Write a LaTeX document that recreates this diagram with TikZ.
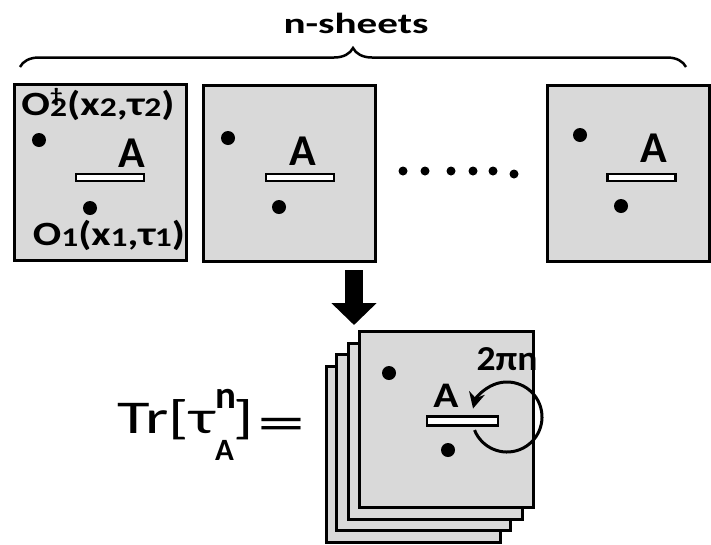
\documentclass[tikz,border=0pt]{standalone}
\usepackage{fontspec}
\setmainfont{Carlito}
\usetikzlibrary{positioning}
\usetikzlibrary{arrows.meta}
\usetikzlibrary{decorations.pathreplacing}

\definecolor{sheetgray}{RGB}{217,217,217}
\newcommand{\sub}[1]{\raisebox{-1pt}{\fontsize{27}{27}\selectfont #1}}

\begin{document}
\begin{tikzpicture}[x=1pt, y=-1pt, font=\bfseries,
	sheet/.style={draw, line width=3pt, fill=sheetgray, inner sep=0pt, minimum width=172pt, minimum height=176pt},
	slit/.style={draw, line width=2.5pt, fill=white, inner sep=0pt, minimum width=68pt, minimum height=7pt},
	pt/.style={circle, fill=black, inner sep=0pt, minimum size=14pt},
	alabel/.style={anchor=base, inner sep=0pt, font=\bfseries\fontsize{44}{44}\selectfont}]
		\useasboundingbox (0, 0) rectangle (711, 544);

		% brace over the sheets
		\draw [line width=2.5pt, decorate, decoration={brace, amplitude=19pt}] (20, 67) -- (686, 67);
		\node (nsheets) [anchor=base, inner sep=0pt, font=\bfseries\fontsize{29}{29}\selectfont] at (356, 33)
			{\resizebox{145pt}{\height}{n-sheets}};

		% first sheet
		\node (sheet1) [sheet] at (100, 172) {};
		\node (o2) [pt] at (39, 140) {};
		\node (o1) [pt] at (90, 208) {};
		\node (slit1) [slit] at (110, 177.5) {};
		\node (a1) [alabel] at (132, 167) {A};
		\node (o2lbl) [anchor=base, inner sep=0pt, font=\bfseries\fontsize{34}{34}\selectfont] at (98, 115)
			{\resizebox{153pt}{\height}{O\makebox[0pt][l]{\raisebox{13pt}{\fontsize{20}{20}\selectfont †}}\sub{2}(x\sub{2},τ\sub{2})}};
		\node (o1lbl) [anchor=base, inner sep=0pt, font=\bfseries\fontsize{34}{34}\selectfont] at (109, 245)
			{\resizebox{152pt}{\height}{O\sub{1}(x\sub{1},τ\sub{1})}};

		% second sheet
		\node (sheet2) [sheet] at (289, 173.5) {};
		\node (p21) [pt] at (228, 138) {};
		\node (p22) [pt] at (279, 207) {};
		\node (slit2) [slit] at (300, 177.5) {};
		\node (a2) [alabel] at (303, 165) {A};

		% dots in between
		\foreach \x/\y in {403/171, 425/171, 451/171, 473/171, 493/171, 514/174}
			\fill (\x, \y) circle (4.5);

		% last sheet
		\node (sheetn) [sheet, minimum width=162pt] at (628, 173.5) {};
		\node (pn1) [pt] at (580, 135) {};
		\node (pn2) [pt] at (621, 206) {};
		\node (slitn) [slit] at (641.5, 177.5) {};
		\node (an) [alabel] at (654, 162) {A};

		% stacked sheets
		\foreach \i/\x/\y in {4/325/365, 3/335/353, 2/347/342}
			\node (back\i) [sheet, anchor=north west, minimum width=174pt, minimum height=176pt] at (\x, \y) {};
		\node (front) [sheet, anchor=north west, minimum width=174pt, minimum height=176pt] at (358, 330) {};
		\node (q1) [pt] at (389, 373) {};
		\node (q2) [pt] at (448, 450) {};
		\node (slitf) [slit, minimum width=71pt, minimum height=9pt] at (462.5, 421) {};
		\node (af) [alabel, font=\bfseries\fontsize{36}{36}\selectfont] at (446, 407) {\scalebox{1.15}[1]{A}};
		\node (turns) [anchor=base, inner sep=0pt, font=\bfseries\fontsize{35}{35}\selectfont] at (507, 370)
			{\resizebox{61pt}{\height}{2πn}};

		% winding round A
		\coordinate (loop) at (507, 417);
		\draw [line width=3pt, -{Stealth[length=16pt, width=16pt]}] ([shift={(158:35)}]loop) arc (158:-166:35);

		% down arrow
		\coordinate (arrowtop) at (354, 270);
		\draw [line width=18pt, -{Triangle[length=22pt, width=44pt]}] (arrowtop) -- ([shift={(-4, -5)}]front.north west);

		% trace
		\node (trace) [anchor=base west, inner sep=0pt, font=\mdseries\fontsize{47}{47}\selectfont] at (117, 433)
			{\scalebox{1.42}[1]{Tr[τ}\makebox[0pt][l]{\raisebox{25pt}{\bfseries\fontsize{39}{39}\selectfont n}}%
			\raisebox{-27pt}{\bfseries\fontsize{31}{31}\selectfont A}\scalebox{1.4}[1]{]}%
			\hspace{3pt}\raisebox{-7pt}{\scalebox{2.05}[1.1]{=}}};
	\end{tikzpicture}
\end{document}
